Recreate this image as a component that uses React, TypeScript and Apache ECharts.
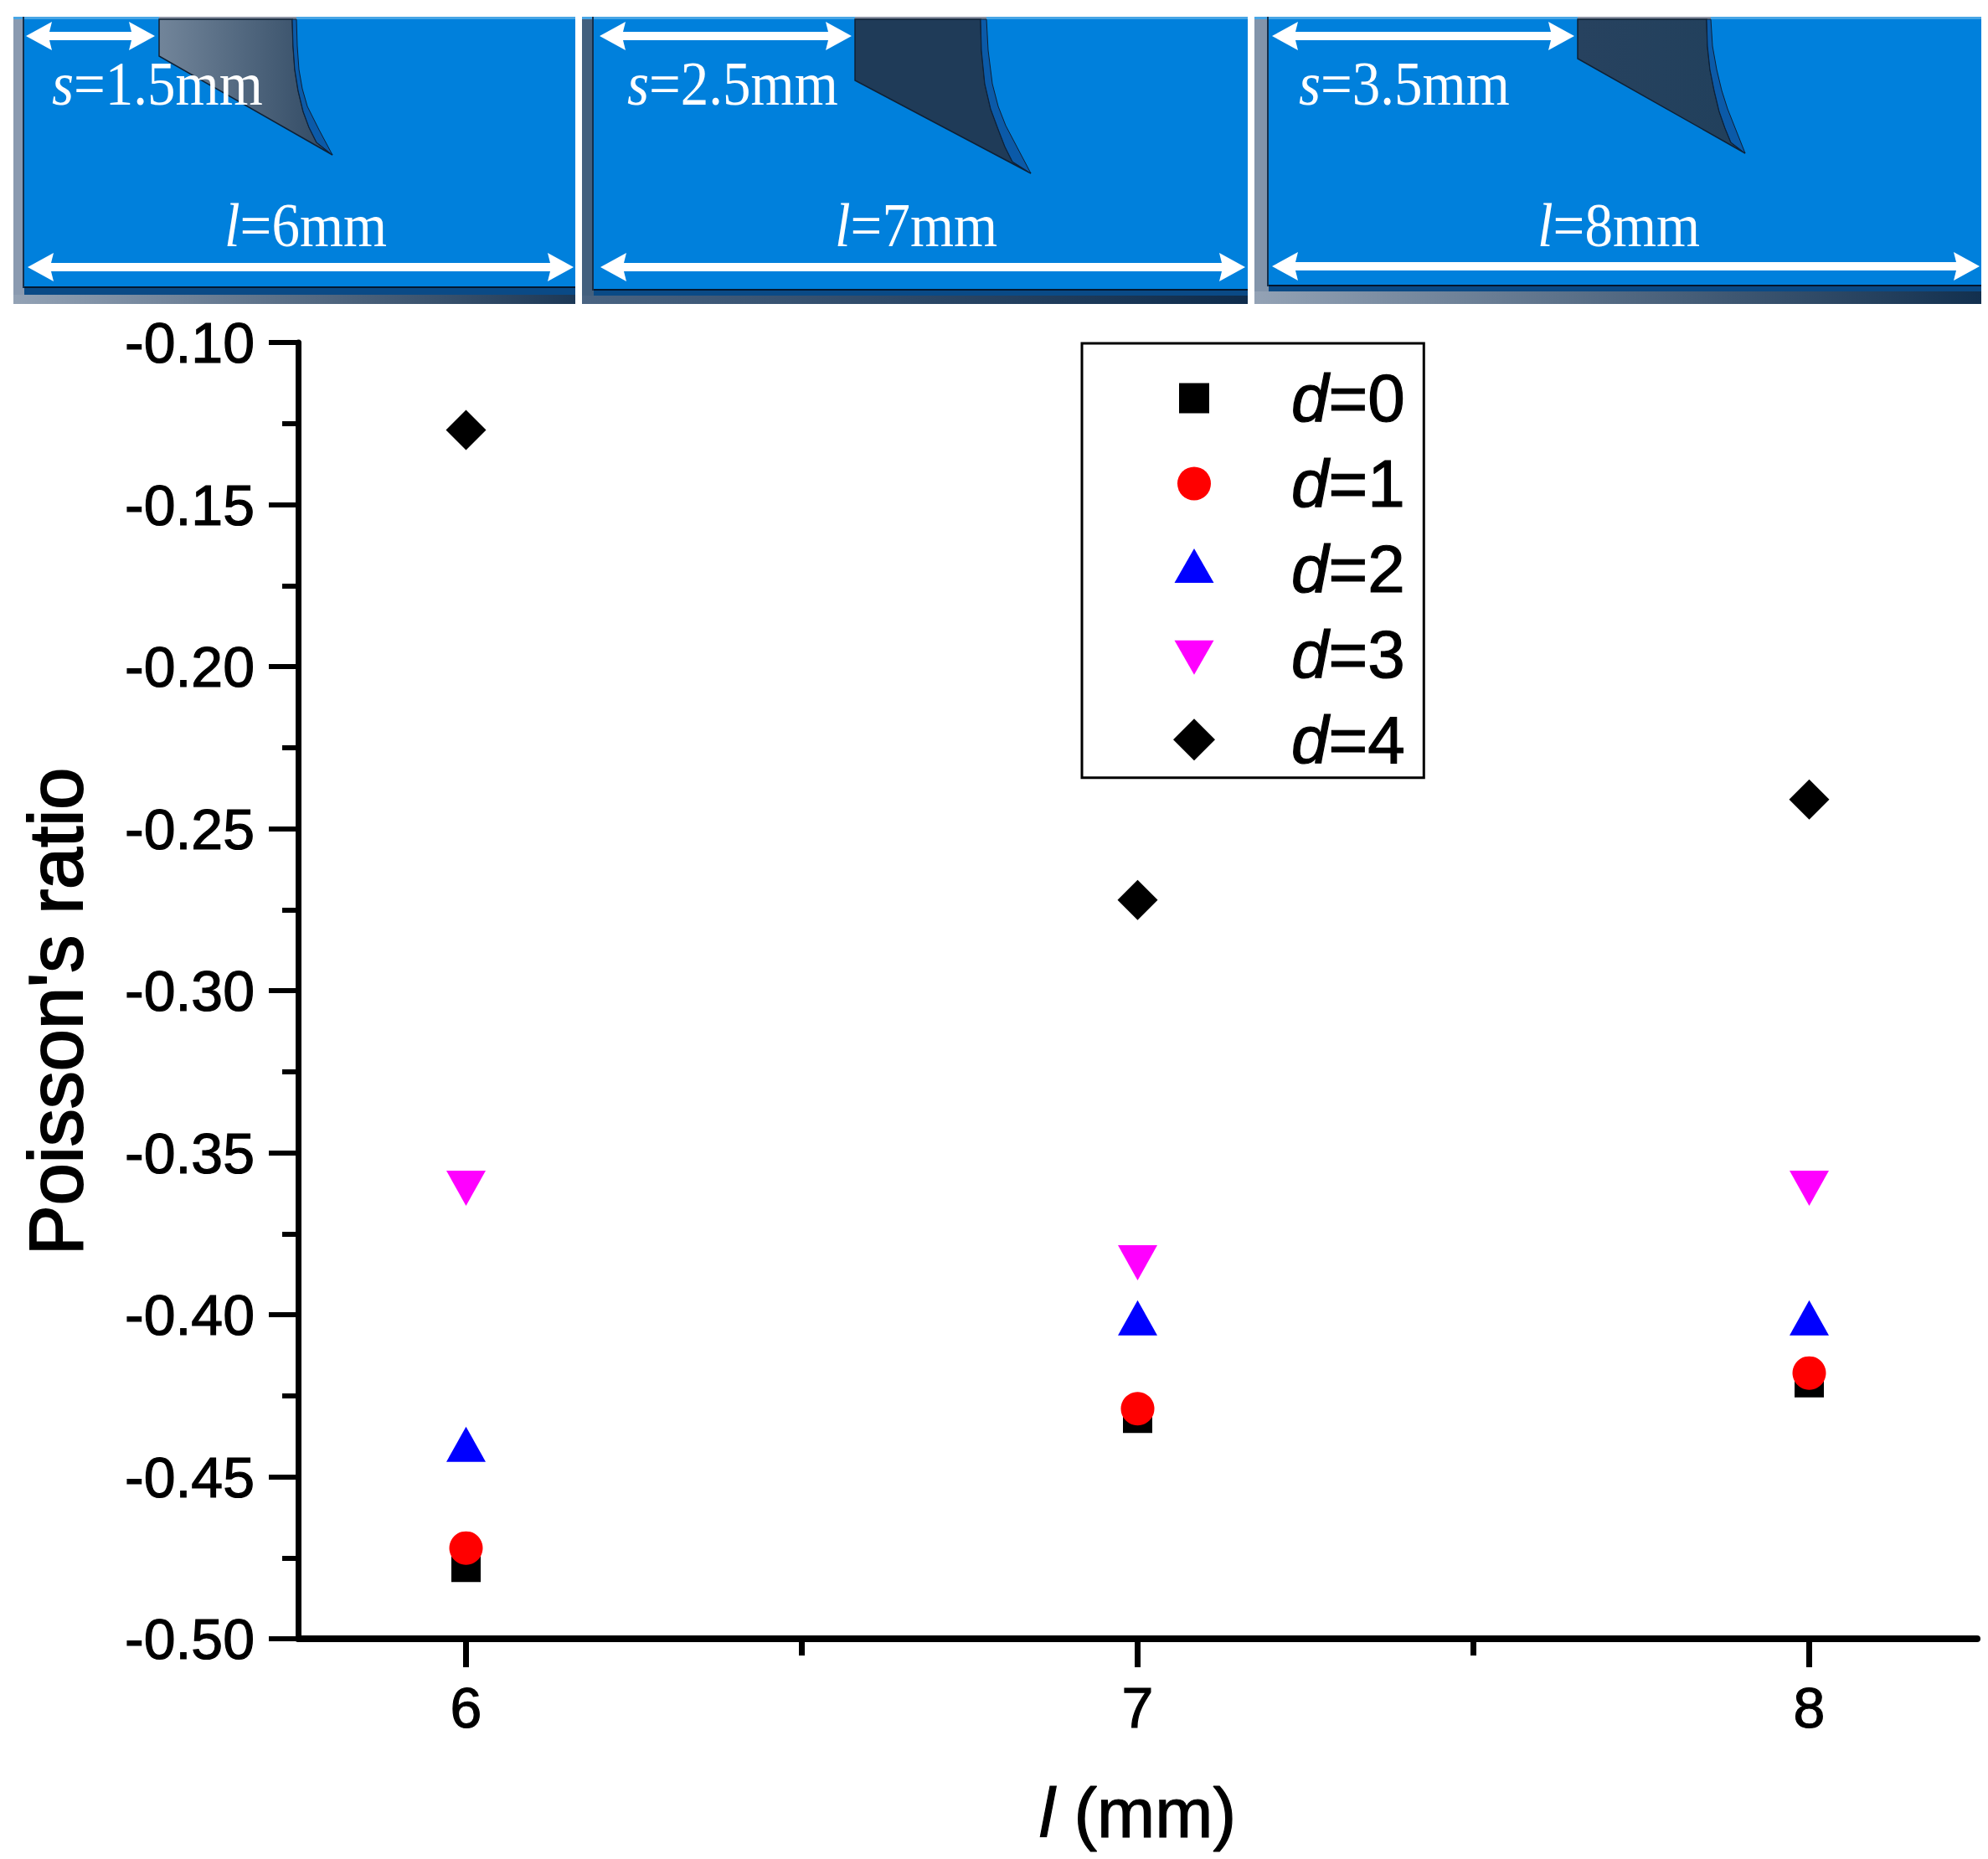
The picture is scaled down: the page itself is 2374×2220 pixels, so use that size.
import React, { useEffect, useRef } from "react";
import * as echarts from "echarts";

const lengths = [6, 7, 8];
const minorLengths = [6.5, 7.5];
const d0 = [-0.478, -0.432, -0.421];
const d1 = [-0.472, -0.429, -0.418];
const d2 = [-0.44, -0.401, -0.401];
const d3 = [-0.361, -0.384, -0.361];
const d4 = [-0.127, -0.272, -0.241];
const seriesNames = ["d=0", "d=1", "d=2", "d=3", "d=4"];
const seriesValues = [d0, d1, d2, d3, d4];
const seriesColors = ["#000000", "#ff0000", "#0000ff", "#ff00ff", "#000000"];

const SYMBOLS: any[] = [
  "rect",
  "circle",
  "triangle",
  "path://M0 0H47L23.5 41Z",
  "diamond",
];
const SYMBOL_SIZES: any[] = [35, 40, [47, 42], [47, 42], 48];
const LEGEND_ICONS = [
  "path://M0 0M50 50M7 7H43V43H7Z",
  "path://M0 0M50 50M5 25A20 20 0 1 1 45 25A20 20 0 1 1 5 25Z",
  "path://M0 0M50 50M1.500 41.500H48.500L25 0.500Z",
  "path://M0 0M50 50M1.500 8.500H48.500L25 49.500Z",
  "path://M0 0M50 50M0 25L25 0L50 25L25 50Z",
];

const SANS = "Liberation Sans";
const SERIF = "Liberation Serif";

const PANELS = [
  {
    x0: 16, x1: 687, inner: 29, blueBottom: 342, bandBottom: 352,
    strip: "#8a9ab0", bandFrom: "#93a2b5", bandTo: "#1c3856",
    blade: [[190, 23], [349, 23], [350, 55], [352, 83], [356, 108], [362, 133], [369, 152], [378, 170], [397, 185], [190, 67]],
    sliver: [[349, 23], [354, 23], [355, 55], [357, 83], [361, 106], [367, 127], [381, 155], [397, 185], [378, 170], [369, 152], [362, 133], [356, 108], [352, 83], [350, 55]],
    bladeFrom: "#72859a", bladeTo: "#2f4862",
    top: [31, 185], bottom: [33, 685], arrowY: 319,
    sText: "{i|s}=1.5mm", sX: 62, lText: "{i|l}=6mm", lX: 268,
  },
  {
    x0: 695, x1: 1490, inner: 709, blueBottom: 345, bandBottom: 353,
    strip: "#43607e", bandFrom: "#4a6482", bandTo: "#0e2c4c",
    blade: [[1021, 23], [1171, 23], [1172, 60], [1176, 100], [1183, 130], [1193, 157], [1200, 175], [1209, 193], [1231, 207], [1021, 96]],
    sliver: [[1171, 23], [1178, 23], [1180, 60], [1185, 100], [1192, 127], [1201, 150], [1231, 207], [1209, 193], [1200, 175], [1193, 157], [1183, 130], [1176, 100], [1172, 60]],
    bladeFrom: "#1f3b58", bladeTo: "#1f3b58",
    top: [716, 1017], bottom: [717, 1487], arrowY: 319,
    sText: "{i|s}=2.5mm", sX: 749, lText: "{i|l}=7mm", lX: 997,
  },
  {
    x0: 1498, x1: 2366, inner: 1515, blueBottom: 340, bandBottom: 348,
    strip: "#8294aa", bandFrom: "#93a2b5", bandTo: "#12304f",
    blade: [[1884, 23], [2038, 23], [2039, 55], [2042, 83], [2047, 108], [2053, 133], [2060, 153], [2067, 170], [2084, 183], [1884, 70]],
    sliver: [[2038, 23], [2043, 23], [2045, 55], [2050, 83], [2056, 108], [2063, 130], [2084, 183], [2067, 170], [2060, 153], [2053, 133], [2047, 108], [2042, 83], [2039, 55]],
    bladeFrom: "#27425f", bladeTo: "#21405c",
    top: [1519, 1880], bottom: [1519, 2364], arrowY: 318,
    sText: "{i|s}=3.5mm", sX: 1551, lText: "{i|l}=8mm", lX: 1836,
  },
];

function arrowPoints(a: number, b: number, y: number) {
  const hl = 31, hh = 17, sh = 5, notch = 3;
  return [
    [a, y], [a + hl, y - hh], [a + hl - notch, y - sh], [b - hl + notch, y - sh],
    [b - hl, y - hh], [b, y], [b - hl, y + hh], [b - hl + notch, y + sh],
    [a + hl - notch, y + sh], [a + hl, y + hh],
  ];
}

function linear(a: string, b: string) {
  return new echarts.graphic.LinearGradient(0, 0, 1, 0, [
    { offset: 0, color: a },
    { offset: 1, color: b },
  ]);
}

function panelText(text: string, x: number, baseline: number) {
  return {
    type: "text",
    x,
    y: baseline,
    scaleY: 1.12,
    style: {
      text,
      rich: { i: { fontStyle: "italic", fontFamily: SERIF, fontSize: 67, fill: "#fff" } },
      fontSize: 67,
      fontFamily: SERIF,
      fill: "#fff",
      verticalAlign: "bottom",
      y: 11,
    },
  };
}

function panelGraphics() {
  const out: any[] = [];
  for (const p of PANELS) {
    const w = p.x1 - p.x0;
    out.push({ type: "rect", shape: { x: p.x0, y: 20, width: w, height: 343 }, style: { fill: p.strip } });
    out.push({
      type: "rect",
      shape: { x: p.x0, y: p.bandBottom, width: w, height: 363 - p.bandBottom },
      style: { fill: linear(p.bandFrom, p.bandTo) },
    });
    out.push({
      type: "rect",
      shape: { x: p.inner, y: 20, width: p.x1 - p.inner, height: p.blueBottom - 20 },
      style: { fill: "#0080dc" },
    });
    out.push({ type: "rect", shape: { x: p.x0, y: 20, width: w, height: 3 }, style: { fill: "#47a5e5" } });
    out.push({
      type: "rect",
      shape: { x: p.inner - 2, y: 20, width: 2, height: p.blueBottom - 18 },
      style: { fill: "#16304c" },
    });
    out.push({
      type: "rect",
      shape: { x: p.inner, y: p.blueBottom, width: p.x1 - p.inner, height: p.bandBottom - p.blueBottom },
      style: { fill: "#0a4a86" },
    });
    out.push({
      type: "rect",
      shape: { x: p.inner, y: p.blueBottom, width: p.x1 - p.inner, height: 2 },
      style: { fill: "#04172e" },
    });
    const bx = p.blade[0][0];
    out.push({
      type: "rect",
      shape: { x: bx, y: 20, width: p.sliver[1][0] - bx, height: 3 },
      style: { fill: "#8a92a2" },
    });
    out.push({
      type: "polygon",
      shape: { points: p.blade },
      style: { fill: linear(p.bladeFrom, p.bladeTo), stroke: "#0e2035", lineWidth: 1.5 },
    });
    out.push({
      type: "polygon",
      shape: { points: p.sliver },
      style: { fill: "#0b5aa8", stroke: "#0e2035", lineWidth: 1 },
    });
    out.push({ type: "polygon", shape: { points: arrowPoints(p.top[0], p.top[1], 43) }, style: { fill: "#fff" } });
    out.push({ type: "polygon", shape: { points: arrowPoints(p.bottom[0], p.bottom[1], p.arrowY) }, style: { fill: "#fff" } });
    out.push(panelText(p.sText, p.sX, 125));
    out.push(panelText(p.lText, p.lX, 294));
  }
  return out;
}

export default function App() {
  const ref = useRef<HTMLDivElement>(null);
  useEffect(() => {
    const chart = echarts.init(ref.current!, undefined, { renderer: "svg" });
    const heavy = { textBorderColor: "#000", textBorderWidth: 1.2 };
    const labelStyle = { fontFamily: SANS, fontSize: 68, color: "#000", ...heavy };
    chart.setOption({
      animation: false,
      backgroundColor: "#fff",
      graphic: { elements: panelGraphics() },
      grid: { left: 356, right: 13, top: 409, bottom: 263, outerBoundsMode: "none" },
      legend: {
        left: 1292,
        top: 410,
        orient: "vertical",
        align: "left",
        padding: [25, 22, 5, 109],
        backgroundColor: "#fff",
        borderColor: "#000",
        borderWidth: 3,
        itemWidth: 50,
        itemHeight: 50,
        itemGap: 20.7,
        selectedMode: false,
        data: seriesNames.map((name, i) => ({ name, icon: LEGEND_ICONS[i], itemStyle: { color: seriesColors[i] } })),
        formatter: (name: string) => `{i|d}=${name.slice(2)}`,
        textStyle: {
          fontFamily: SANS,
          fontSize: 80,
          lineHeight: 80,
          color: "#000",
          ...heavy,
          rich: {
            i: { fontFamily: SANS, fontSize: 80, lineHeight: 80, fontStyle: "italic", padding: [0, 0, 0, 86], color: "#000", ...heavy },
          },
        },
      },
      xAxis: [
        {
          type: "value",
          min: 5.75,
          max: 8.25,
          position: "bottom",
          splitLine: { show: false },
          axisLine: { show: true, onZero: false, lineStyle: { color: "#000", width: 8 } },
          axisTick: { show: true, customValues: lengths, length: 34, lineStyle: { color: "#000", width: 7 } },
          axisLabel: { ...labelStyle, customValues: lengths, margin: 48, formatter: (v: number) => String(v) },
          name: "{i|l} (mm)",
          nameLocation: "middle",
          nameGap: 167,
          nameTextStyle: {
            fontFamily: SANS,
            fontSize: 83,
            color: "#000",
            ...heavy,
            rich: { i: { fontFamily: SANS, fontSize: 83, fontStyle: "italic", color: "#000", ...heavy } },
          },
        },
        {
          type: "value",
          min: 5.75,
          max: 8.25,
          position: "bottom",
          splitLine: { show: false },
          axisLine: { show: false, onZero: false },
          axisTick: { show: true, customValues: minorLengths, length: 20, lineStyle: { color: "#000", width: 7 } },
          axisLabel: { show: false },
        },
      ],
      yAxis: {
        type: "value",
        min: -0.5,
        max: -0.1,
        interval: 0.05,
        splitLine: { show: false },
        axisLine: { show: true, onZero: false, lineStyle: { color: "#000", width: 7 } },
        axisTick: { show: true, length: 35, lineStyle: { color: "#000", width: 6 } },
        minorTick: { show: true, splitNumber: 2, length: 19, lineStyle: { color: "#000", width: 6 } },
        minorSplitLine: { show: false },
        axisLabel: { ...labelStyle, margin: 52, formatter: (v: number) => v.toFixed(2) },
        name: "{n|Poisson's ratio}",
        nameLocation: "middle",
        nameGap: 244,
        nameTextStyle: {
          fontFamily: SANS,
          fontSize: 90,
          color: "#000",
          rich: { n: { fontFamily: SANS, fontSize: 90, color: "#000", padding: [0, 50, 0, 0], textBorderColor: "#000", textBorderWidth: 2 } },
        },
      },
      series: seriesNames.map((name, i) => ({
        type: "scatter",
        name,
        xAxisIndex: 0,
        symbol: SYMBOLS[i],
        symbolSize: SYMBOL_SIZES[i],
        itemStyle: { color: seriesColors[i], opacity: 1 },
        data: lengths.map((l, j) => [l, seriesValues[i][j]]),
      })),
    });
    return () => chart.dispose();
  }, []);
  return (
    <div
      ref={ref}
      style={{ position: "absolute", left: 0, top: 0, width: 2374, height: 2220 }}
    />
  );
}
